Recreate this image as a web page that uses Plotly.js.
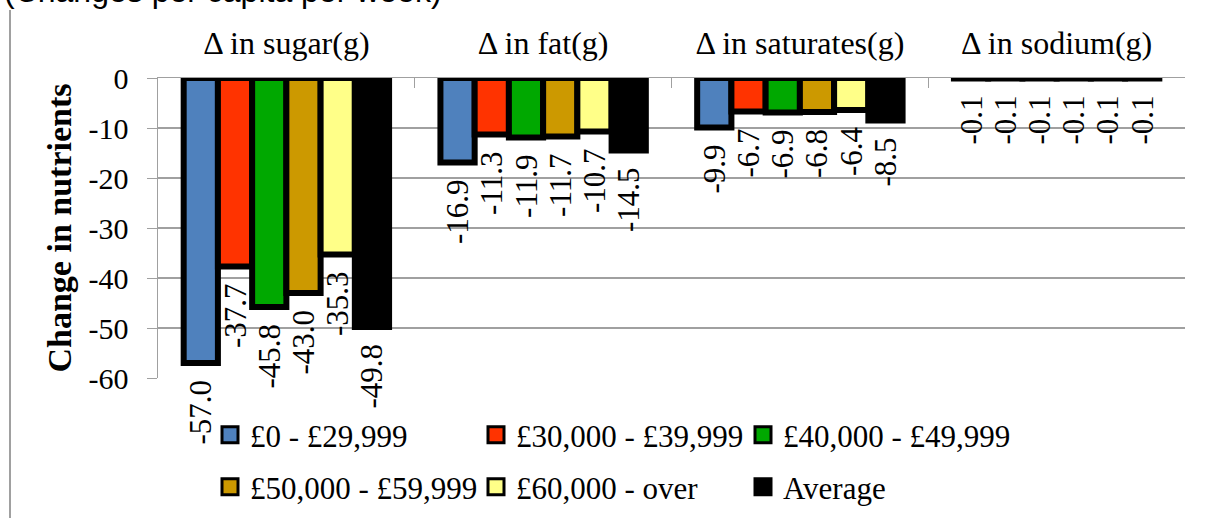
<!DOCTYPE html>
<html><head><meta charset="utf-8">
<script src="https://cdn.plot.ly/plotly-3.0.1.min.js"></script>
<style>html,body{margin:0;padding:0;background:#fff}#chart{width:1208px;height:518px}</style>
</head><body><div id="chart"></div>
<script>
const categories = ["Δ in sugar(g)", "Δ in fat(g)", "Δ in saturates(g)", "Δ in sodium(g)"];
const seriesNames = ["£0 - £29,999", "£30,000 - £39,999", "£40,000 - £49,999", "£50,000 - £59,999", "£60,000 - over", "Average"];
const inc0_29 = [-57.0, -16.9, -9.9, -0.1];
const inc30_39 = [-37.7, -11.3, -6.7, -0.1];
const inc40_49 = [-45.8, -11.9, -6.9, -0.1];
const inc50_59 = [-43.0, -11.7, -6.8, -0.1];
const inc60_over = [-35.3, -10.7, -6.4, -0.1];
const average = [-49.8, -14.5, -8.5, -0.1];
const yTickVals = [0, -10, -20, -30, -40, -50, -60];
const yTickText = ["0", "-10", "-20", "-30", "-40", "-50", "-60"];

const seriesValues = [inc0_29, inc30_39, inc40_49, inc50_59, inc60_over, average];
const colors = ["#4F81BD", "#FF3300", "#00A800", "#CC9900", "#FFFF88", "#000000"];

const serif = "Liberation Serif";
const gray = "#a0a0a0";

const L = 158, R = 23, T = 78, B = 140;
const pw = 1208 - L - R, ph = 518 - T - B;
const px = x => (x - L) / pw;
const py = y => (518 - B - y) / ph;

// legend item placement (pixel positions of each legend box)
const legendPos = [[210, 435], [476, 435], [743, 435], [210, 487], [476, 487], [743, 487]];
const legendIds = ["legend", "legend2", "legend3", "legend4", "legend5", "legend6"];

// trailing non-breaking/thin space keeps a small gap between bar end and its rotated label
const labelGap = "\u00A0\u2009";

const traces = [];
seriesValues.forEach((vals, i) => {
  traces.push({
    type: "bar", x: categories, y: vals, name: seriesNames[i], showlegend: false,
    marker: {color: colors[i], line: {color: "#000", width: 6}},
    text: vals.map(v => v.toFixed(1) + labelGap), textposition: "outside", textangle: -90,
    constraintext: "none", cliponaxis: false,
    textfont: {family: serif, size: 31, color: "#000"},
    hoverinfo: "none"
  });
});
seriesValues.forEach((vals, i) => {
  traces.push({
    type: "scatter", mode: "markers", x: [null], y: [null], name: seriesNames[i],
    legend: legendIds[i],
    marker: {symbol: "square", size: 16, color: colors[i], line: {color: "#000", width: 3}},
    hoverinfo: "none"
  });
});

const layout = {
  width: 1208, height: 518, autosize: false,
  margin: {l: L, r: R, t: T, b: B, autoexpand: false},
  paper_bgcolor: "#fff", plot_bgcolor: "#fff",
  barmode: "group", bargap: 0.2, bargroupgap: 0,
  font: {family: serif, size: 30, color: "#000"},
  xaxis: {
    type: "category", side: "top", ticks: "inside", ticklen: 10, tickcolor: gray,
    tickson: "boundaries", showline: true, linecolor: gray, linewidth: 1.5,
    showgrid: false, tickfont: {family: serif, size: 32, color: "#000"},
    ticklabelstandoff: 10, fixedrange: true
  },
  yaxis: {
    range: [-60, 0], tickvals: yTickVals, ticktext: yTickText, ticks: "outside", ticklen: 10, tickcolor: gray,
    showline: true, linecolor: gray, linewidth: 1.5, gridcolor: gray, gridwidth: 1.5,
    zeroline: false, tickfont: {family: serif, size: 30, color: "#000"},
    ticklabelstandoff: 12,
    title: {text: "<b>Change in nutrients</b>", font: {family: serif, size: 34, color: "#000"}, standoff: 6},
    fixedrange: true
  },
  annotations: [{
    text: "(Changes per capita per week)", xref: "paper", yref: "paper",
    x: px(2), y: py(-9), xanchor: "left", yanchor: "middle", showarrow: false,
    font: {family: "Liberation Sans", size: 32, color: "#000"}
  }],
  shapes: [{
    type: "line", xref: "paper", yref: "paper", x0: px(10), x1: px(10), y0: py(518), y1: py(10),
    line: {color: gray, width: 2}
  }]
};
legendIds.forEach((id, i) => {
  layout[id] = {
    orientation: "h", xanchor: "left", yanchor: "middle",
    x: px(legendPos[i][0]), y: py(legendPos[i][1]),
    font: {family: serif, size: 31, color: "#000"},
    bgcolor: "rgba(0,0,0,0)", itemclick: false, itemdoubleclick: false
  };
});

Plotly.newPlot("chart", traces, layout, {displayModeBar: false, staticPlot: true});
</script></body></html>
